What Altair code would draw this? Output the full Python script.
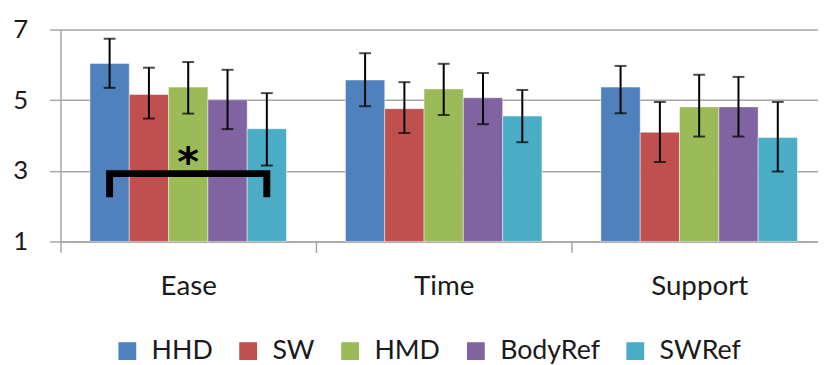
import altair as alt
import pandas as pd

categories = ["Ease", "Time", "Support"]
series = ["HHD", "SW", "HMD", "BodyRef", "SWRef"]
colors = ["#4F81BD", "#C0504D", "#9BBB59", "#8064A2", "#4BACC6"]

ease_mean = [6.04, 5.16, 5.37, 5.01, 4.19]
time_mean = [5.57, 4.76, 5.32, 5.07, 4.55]
support_mean = [5.37, 4.09, 4.81, 4.81, 3.94]

ease_hi = [6.74, 5.92, 6.08, 5.86, 5.20]
ease_lo = [5.35, 4.48, 4.62, 4.18, 3.15]
time_hi = [6.33, 5.51, 6.03, 5.77, 5.29]
time_lo = [4.83, 4.07, 4.58, 4.32, 3.81]
support_hi = [5.97, 4.95, 5.72, 5.66, 4.95]
support_lo = [4.63, 3.25, 3.97, 3.97, 2.98]

y_ticks = [1, 3, 5, 7]
y_base = 1

# significance bracket (Ease: HHD vs SWRef)
bracket_series = ["HHD", "HHD", "SWRef", "SWRef"]
bracket_y = [2.25, 2.92, 2.92, 2.25]
star_y = [3.45]

rows = []
for cat, m, hi, lo in [
    ("Ease", ease_mean, ease_hi, ease_lo),
    ("Time", time_mean, time_hi, time_lo),
    ("Support", support_mean, support_hi, support_lo),
]:
    for s, mv, h, l in zip(series, m, hi, lo):
        rows.append({"cat": cat, "series": s, "mean": mv, "hi": h, "lo": l})
df = pd.DataFrame(rows)

br = pd.DataFrame({"cat": ["Ease"] * 4, "series": bracket_series,
                   "y": bracket_y, "o": list(range(4))})
star = pd.DataFrame({"cat": ["Ease"], "series": ["HMD"], "y": star_y, "t": ["*"]})

FONT = "Lato"
GRID = "#a6a6a6"
TXT = "#1a1a1a"

xenc = alt.X("cat:N", sort=categories,
             scale=alt.Scale(domain=categories, range=[0, 774], paddingInner=0, paddingOuter=0),
             axis=alt.Axis(title=None, labelAngle=0, tickBand="extent", labelFont=FONT,
                           labelFontSize=28, labelColor=TXT, labelPadding=21,
                           tickSize=11, tickColor=GRID, tickWidth=1.5,
                           domainColor=GRID, domainWidth=1.5))
xoff = alt.XOffset("series:N", sort=series,
                   scale=alt.Scale(domain=series, paddingOuter=0.75, paddingInner=0))
yscale = alt.Scale(domain=[1, 7], nice=False, zero=False)
yaxis = alt.Axis(title=None, values=y_ticks, grid=True, gridColor=GRID, gridWidth=1.5,
                 labelFont=FONT, labelFontSize=26, labelColor=TXT, labelPadding=22,
                 tickSize=11, tickColor=GRID, tickWidth=1.5,
                 domainColor=GRID, domainWidth=1.5)

bars = alt.Chart(df).mark_bar(stroke="white", strokeOpacity=0.45, strokeWidth=1).encode(
    x=xenc, xOffset=xoff,
    y=alt.Y("mean:Q", scale=yscale, axis=yaxis),
    y2=alt.datum(y_base),
    color=alt.Color("series:N", sort=series,
                    scale=alt.Scale(domain=series, range=colors),
                    legend=alt.Legend(title=None, orient="none", legendX=54, legendY=311,
                                      direction="horizontal", symbolType="square",
                                      symbolSize=324, symbolStrokeWidth=0,
                                      labelFont=FONT, labelFontSize=27, labelColor=TXT,
                                      labelOffset=11, columnPadding=22, padding=0)),
)

err = alt.Chart(df).mark_rule(color="black", strokeWidth=2).encode(
    x=xenc, xOffset=xoff, y=alt.Y("lo:Q", scale=yscale), y2="hi:Q")
cap_hi = alt.Chart(df).mark_tick(color="black", orient="horizontal", size=12, thickness=2).encode(
    x=xenc, xOffset=xoff, y=alt.Y("hi:Q", scale=yscale))
cap_lo = alt.Chart(df).mark_tick(color="black", orient="horizontal", size=12, thickness=2).encode(
    x=xenc, xOffset=xoff, y=alt.Y("lo:Q", scale=yscale))

bracket = alt.Chart(br).mark_line(color="black", strokeWidth=7, strokeCap="butt",
                                  strokeJoin="miter").encode(
    x=xenc, xOffset=xoff, y=alt.Y("y:Q", scale=yscale), order="o:Q")

stars = alt.Chart(star).mark_text(fontSize=42, fontWeight="bold", font="DejaVu Sans",
                                  baseline="middle", color="black", dy=8).encode(
    x=xenc, xOffset=xoff, y=alt.Y("y:Q", scale=yscale), text="t:N")

chart = alt.layer(bars, err, cap_hi, cap_lo, bracket, stars).properties(
    width=765, height=214,
    autosize=alt.AutoSizeParams(type="none"),
    padding={"left": 53, "top": 20, "right": 0, "bottom": 123},
).configure_view(stroke=None)

chart.save("out.html", embed_options={"renderer": "svg", "actions": False})
